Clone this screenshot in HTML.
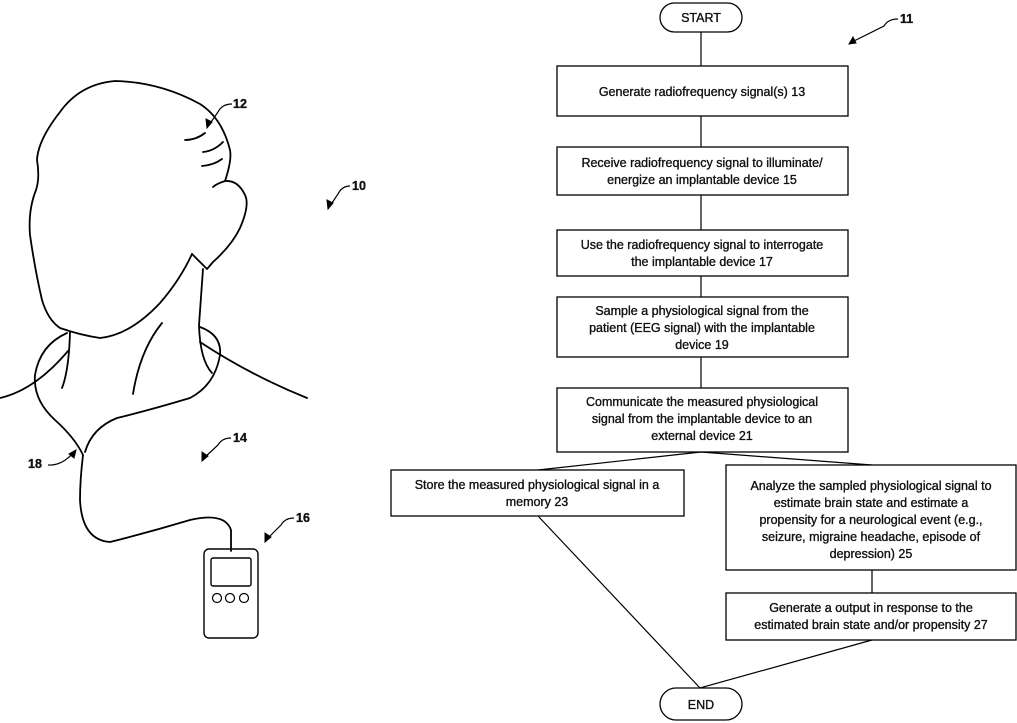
<!DOCTYPE html>
<html><head><meta charset="utf-8"><style>
html,body{margin:0;padding:0;background:#fff;}
svg{display:block;}
text{font-family:"Liberation Sans",Arial,sans-serif;font-size:12.5px;fill:#111;stroke:#111;stroke-width:0.35;}
.b{fill:#fff;stroke:#000;stroke-width:1.3;}
.l{fill:none;stroke:#000;stroke-width:1.2;}
.d{fill:none;stroke:#000;stroke-width:1.8;stroke-linecap:round;stroke-linejoin:round;}
.a{fill:#000;stroke:#000;stroke-width:1;}
</style></head><body>
<svg width="1017" height="723" viewBox="0 0 1017 723">
<path class="d" d="M192,254 L207,269 L213,262 Q232,245 240,228 Q250,205 245,195 Q238,180 225,181 Q216,184 213,187"/>
<path class="d" d="M225,181 Q232,160 230,150 Q222,118 200,104 Q160,82 115,81 Q80,84 60,112 Q38,140 37,160 Q40,178 36,190 Q28,210 30,235 Q35,270 42,300 Q48,320 60,328 Q80,335 100,338 Q130,335 160,303 Q180,280 192,254"/>
<path class="d" d="M185,140 Q196,140 205,133 M203,152 Q214,151 223,142 M202,166 Q214,165 222,159"/>
<path class="d" d="M203,269 L199,325 Q200,360 212,373"/>
<path class="d" d="M70,332 Q69,370 62,388"/>
<path class="d" d="M162,323 Q140,350 133,394"/>
<path class="d" d="M0,398 Q35,390 68,351"/>
<path class="d" d="M200,342 Q250,375 307,398"/>
<path class="d" d="M67,333 Q40,345 35,375 Q33,400 55,420 Q75,438 83,455"/>
<path class="d" d="M200,327 Q222,335 220,355 Q215,385 190,398 Q150,410 117,418 Q92,428 85,452"/>
<path class="d" d="M83,455 Q80,480 80,500 Q82,540 110,542 Q150,532 190,520 Q225,512 231,530 L231,551"/>
<rect x="204" y="549" width="54" height="89" rx="5" class="d" style="stroke-width:1.4"/>
<rect x="211" y="558" width="40" height="28" rx="2" class="d" style="stroke-width:1.4"/>
<circle cx="217" cy="598" r="4.5" class="d" style="stroke-width:1.2"/>
<circle cx="230" cy="598" r="4.5" class="d" style="stroke-width:1.2"/>
<circle cx="244" cy="598" r="4.5" class="d" style="stroke-width:1.2"/>
<g style="font-weight:bold;font-size:12px">
<text x="233" y="108">12</text><text x="352" y="190">10</text><text x="233" y="442">14</text>
<text x="296" y="522">16</text><text x="28" y="468">18</text><text x="900" y="23">11</text>
</g>
<g class="l">
<path d="M232,104 Q222,104 218,112 L209,125"/>
<path d="M350,186 Q342,186 338,194 L330,206"/>
<path d="M231,438 Q222,438 218,445 L204,458"/>
<path d="M294,518 Q285,518 281,525 L267,539"/>
<path d="M48,465 Q62,466 74,452"/>
<path d="M898,19 Q888,19 884,26 L852,42"/>
</g>
<path class="a" d="M207,128 L206,119 L212,122 Z"/>
<path class="a" d="M328,209 L327,200 L333,203 Z"/>
<path class="a" d="M202,461 L202,452 L208,456 Z"/>
<path class="a" d="M265,542 L265,533 L271,537 Z"/>
<path class="a" d="M76,450 L74,458 L69,454 Z"/>
<path class="a" d="M849,44 L853,37 L856,43 Z"/>
<rect class="b" x="660" y="3" width="82" height="29" rx="14.5"/>
<text x="701" y="22" text-anchor="middle">START</text>
<line class="l" x1="701" y1="32" x2="701" y2="66"/>
<rect class="b" x="557" y="66" width="291" height="50"/>
<text x="702" y="96" text-anchor="middle">Generate radiofrequency signal(s) 13</text>
<line class="l" x1="701" y1="116" x2="701" y2="147"/>
<rect class="b" x="557" y="147" width="291" height="48"/>
<text x="702" y="167" text-anchor="middle">Receive radiofrequency signal to illuminate/</text>
<text x="702" y="184" text-anchor="middle">energize an implantable device 15</text>
<line class="l" x1="701" y1="195" x2="701" y2="230"/>
<rect class="b" x="557" y="230" width="291" height="46"/>
<text x="702" y="249" text-anchor="middle">Use the radiofrequency signal to interrogate</text>
<text x="702" y="266" text-anchor="middle">the implantable device 17</text>
<line class="l" x1="701" y1="276" x2="701" y2="297"/>
<rect class="b" x="557" y="297" width="291" height="60"/>
<text x="702" y="315" text-anchor="middle">Sample a physiological signal from the</text>
<text x="702" y="332" text-anchor="middle">patient (EEG signal) with the implantable</text>
<text x="702" y="349" text-anchor="middle">device 19</text>
<line class="l" x1="701" y1="357" x2="701" y2="388"/>
<rect class="b" x="557" y="388" width="291" height="64"/>
<text x="702" y="406" text-anchor="middle">Communicate the measured physiological</text>
<text x="702" y="423" text-anchor="middle">signal from the implantable device to an</text>
<text x="702" y="440" text-anchor="middle">external device 21</text>
<path class="l" d="M538,470 L701,452 L872,465"/>
<rect class="b" x="391" y="470" width="293" height="46"/>
<text x="537" y="489" text-anchor="middle">Store the measured physiological signal in a</text>
<text x="537" y="506" text-anchor="middle">memory 23</text>
<rect class="b" x="726" y="465" width="290" height="105"/>
<text x="871" y="490" text-anchor="middle">Analyze the sampled physiological signal to</text>
<text x="871" y="507" text-anchor="middle">estimate brain state and estimate a</text>
<text x="871" y="524" text-anchor="middle">propensity for a neurological event (e.g.,</text>
<text x="871" y="541" text-anchor="middle">seizure, migraine headache, episode of</text>
<text x="871" y="558" text-anchor="middle">depression) 25</text>
<line class="l" x1="872" y1="570" x2="872" y2="593"/>
<rect class="b" x="726" y="593" width="290" height="47"/>
<text x="871" y="612" text-anchor="middle">Generate a output in response to the</text>
<text x="871" y="629" text-anchor="middle">estimated brain state and/or propensity 27</text>
<path class="l" d="M538,516 L700,688 L872,640"/>
<rect class="b" x="660" y="688" width="82" height="32" rx="16"/>
<text x="701" y="709" text-anchor="middle">END</text>
</svg>
</body></html>
